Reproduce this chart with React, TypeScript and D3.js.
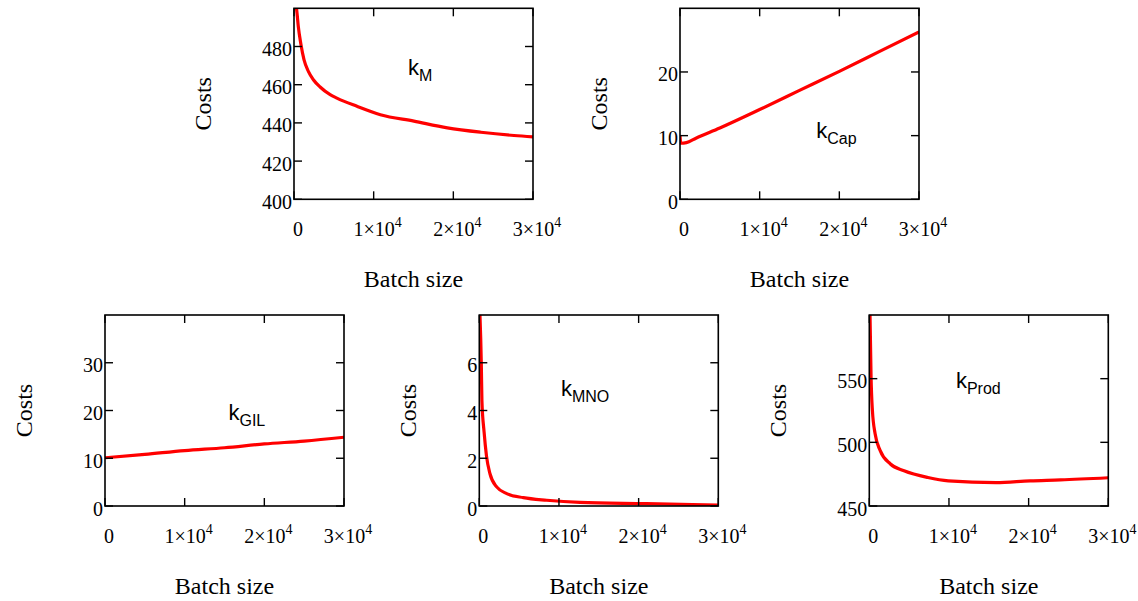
import React, { useEffect, useRef } from 'react';
import * as d3 from 'd3';

// batch sizes shared on every x axis
const xTicks = [0, 10000, 20000, 30000];

// k_M
const batchM = [60, 340, 542, 845, 1261, 1803, 2433, 3277, 4538, 5380, 7900, 10845, 15050, 19250, 23450, 27620, 30000];
const costM = [504, 499, 490.4, 481.7, 473, 467, 462.6, 458.8, 454.8, 453, 448.7, 444.3, 440.9, 437.4, 435.1, 433.4, 432.7];

// k_Cap
const batchCap = [0, 100, 800, 2000, 5000, 10000, 15000, 20000, 25000, 30000];
const costCap = [10.0, 8.8, 8.9, 9.6, 11.2, 14.1, 17.1, 20.1, 23.2, 26.3];

// k_GIL
const batchGIL = [0, 5000, 10000, 15000, 20000, 25000, 30000];
const costGIL = [10.1, 10.8, 11.6, 12.2, 13.0, 13.6, 14.4];

// k_MNO
const batchMNO = [60, 250, 330, 600, 900, 1340, 2180, 3440, 5530, 8460, 12640, 21010, 30000];
const costMNO = [8.2, 6.0, 4.4, 3.1, 2.1, 1.35, 0.8, 0.52, 0.35, 0.24, 0.15, 0.1, 0.04];

// k_Prod
const batchProd = [90, 220, 390, 730, 1370, 2650, 4360, 7360, 9920, 15900, 20180, 24000, 30000];
const costProd = [600, 551.5, 525, 506.7, 493.5, 483, 477.7, 472.4, 469.8, 468.4, 469.8, 470.5, 472.2];

const panels = [
  { sub: 'M', xs: batchM, ys: costM, yDomain: [400, 500], yTicks: [400, 420, 440, 460, 480], left: 294, top: 8.3, label: [14300, 465.2] },
  { sub: 'Cap', xs: batchCap, ys: costCap, yDomain: [0, 30], yTicks: [0, 10, 20], left: 680, top: 8.3, label: [17100, 9.7] },
  { sub: 'GIL', xs: batchGIL, ys: costGIL, yDomain: [0, 40], yTicks: [0, 10, 20, 30], left: 105, top: 315, label: [15500, 18.1] },
  { sub: 'MNO', xs: batchMNO, ys: costMNO, yDomain: [0, 8], yTicks: [0, 2, 4, 6], left: 479.3, top: 315, label: [10240, 4.62] },
  { sub: 'Prod', xs: batchProd, ys: costProd, yDomain: [450, 600], yTicks: [450, 500, 550], left: 869.3, top: 315, label: [10870, 542.3] },
];

const W = 239, H = 191, TICK = 8;
const serif = '"Liberation Serif", "Times New Roman", serif';
const sans = '"Liberation Sans", Arial, sans-serif';

export default function App() {
  const ref = useRef<SVGSVGElement>(null);

  useEffect(() => {
    const svg = d3.select(ref.current);
    svg.selectAll('*').remove();

    panels.forEach((p, i) => {
      const g = svg.append('g').attr('transform', `translate(${p.left}, ${p.top})`);
      const x = d3.scaleLinear().domain([0, 30000]).range([0, W]);
      const y = d3.scaleLinear().domain(p.yDomain).range([H, 0]);

      g.append('clipPath').attr('id', 'clip' + i)
        .append('rect').attr('width', W).attr('height', H);

      // curve
      const line = d3.line<number>()
        .x((d, j) => x(p.xs[j]))
        .y((d) => y(d))
        .curve(d3.curveMonotoneX);
      g.append('path')
        .attr('d', line(p.ys))
        .attr('fill', 'none')
        .attr('stroke', '#ff0000')
        .attr('stroke-width', 3.2)
        .attr('clip-path', `url(#clip${i})`);

      // box
      g.append('rect').attr('width', W).attr('height', H)
        .attr('fill', 'none').attr('stroke', '#000').attr('stroke-width', 1.6);

      // inward ticks, all four sides
      xTicks.forEach((t) => {
        g.append('line').attr('x1', x(t)).attr('x2', x(t)).attr('y1', H).attr('y2', H - TICK)
          .attr('stroke', '#000').attr('stroke-width', 1.4);
        g.append('line').attr('x1', x(t)).attr('x2', x(t)).attr('y1', 0).attr('y2', TICK)
          .attr('stroke', '#000').attr('stroke-width', 1.4);
        const txt = g.append('text')
          .attr('x', x(t) + 4).attr('y', H + 37)
          .attr('text-anchor', 'middle')
          .style('font-family', serif).style('font-size', '20px');
        if (t === 0) {
          txt.text('0');
        } else {
          txt.append('tspan').text(`${t / 10000}\u00d710`);
          txt.append('tspan').attr('dy', -9).style('font-size', '14px').text('4');
        }
      });
      p.yTicks.forEach((t) => {
        g.append('line').attr('x1', 0).attr('x2', TICK).attr('y1', y(t)).attr('y2', y(t))
          .attr('stroke', '#000').attr('stroke-width', 1.4);
        g.append('line').attr('x1', W).attr('x2', W - TICK).attr('y1', y(t)).attr('y2', y(t))
          .attr('stroke', '#000').attr('stroke-width', 1.4);
        g.append('text')
          .attr('x', -2).attr('y', y(t) + 9.5)
          .attr('text-anchor', 'end')
          .style('font-family', serif).style('font-size', '20px')
          .text(String(t));
      });

      // axis titles
      const digits = d3.max(p.yTicks, (t) => String(t).length) || 1;
      g.append('text')
        .attr('transform', `translate(${-(54 + 9.7 * digits)}, ${H / 2}) rotate(-90)`)
        .attr('text-anchor', 'middle')
        .style('font-family', serif).style('font-size', '24px')
        .text('Costs');
      g.append('text')
        .attr('x', W / 2).attr('y', H + 88)
        .attr('text-anchor', 'middle')
        .style('font-family', serif).style('font-size', '24px')
        .text('Batch size');

      // curve name
      const k = g.append('text')
        .attr('x', x(p.label[0])).attr('y', y(p.label[1]))
        .style('font-family', sans).style('font-size', '22px');
      k.append('tspan').text('k');
      k.append('tspan').attr('dy', 6).style('font-size', '16px').text(p.sub);
    });
  }, []);

  return (
    <svg ref={ref} width={1138} height={601}
      style={{ position: 'absolute', left: 0, top: 0, background: '#fff' }} />
  );
}
